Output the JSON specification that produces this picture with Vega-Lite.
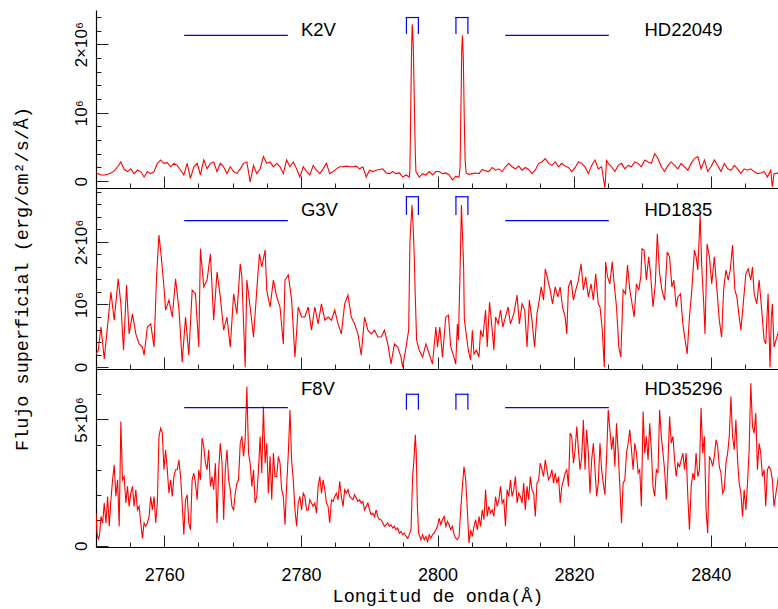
{
  "$schema": "https://vega.github.io/schema/vega-lite/v6.json",
  "background": "white",
  "padding": {"left": 12, "top": 10, "right": 0, "bottom": 2},
  "spacing": 0,
  "bounds": "flush",
  "config": {
    "view": {"stroke": null},
    "axis": {
      "domainColor": "#000", "domainWidth": 1.2, "tickColor": "#222", "tickWidth": 1, "ticks": true, "tickCount": 200,
      "labelFont": "Liberation Sans", "labelFontSize": 17, "labelColor": "#000",
      "titleFont": "Liberation Mono", "titleFontSize": 18.5, "titleFontWeight": "normal", "titleColor": "#000",
      "grid": false, "labelOverlap": false, "labelFlush": false, "labelBound": false
    }
  },
  "datasets": {
    "p1": [
      {"w":2750.00,"f":0.12},{"w":2750.24,"f":0.11},{"w":2750.73,"f":0.09},{"w":2751.21,"f":0.09},{"w":2751.70,"f":0.10},{"w":2752.18,"f":0.12},{"w":2752.67,"f":0.15},{"w":2753.16,"f":0.21},{"w":2753.64,"f":0.28},{"w":2754.13,"f":0.17},{"w":2754.61,"f":0.14},{"w":2755.10,"f":0.18},{"w":2755.58,"f":0.11},{"w":2756.07,"f":0.16},{"w":2756.55,"f":0.14},{"w":2757.04,"f":0.06},{"w":2757.52,"f":0.14},{"w":2758.01,"f":0.11},{"w":2758.50,"f":0.14},{"w":2758.98,"f":0.26},{"w":2759.47,"f":0.31},{"w":2759.95,"f":0.26},{"w":2760.44,"f":0.27},{"w":2760.92,"f":0.21},{"w":2761.41,"f":0.26},{"w":2761.89,"f":0.23},{"w":2762.38,"f":0.16},{"w":2762.86,"f":0.09},{"w":2763.35,"f":0.26},{"w":2763.83,"f":0.04},{"w":2764.32,"f":0.21},{"w":2764.81,"f":0.26},{"w":2765.29,"f":0.09},{"w":2765.78,"f":0.31},{"w":2766.26,"f":0.18},{"w":2766.75,"f":0.26},{"w":2767.23,"f":0.28},{"w":2767.72,"f":0.14},{"w":2768.20,"f":0.26},{"w":2768.69,"f":0.21},{"w":2769.17,"f":0.11},{"w":2769.66,"f":0.21},{"w":2770.15,"f":0.14},{"w":2770.63,"f":0.11},{"w":2771.12,"f":0.18},{"w":2771.60,"f":0.26},{"w":2772.09,"f":0.28},{"w":2772.57,"f":-0.01},{"w":2773.06,"f":0.23},{"w":2773.54,"f":0.11},{"w":2774.03,"f":0.18},{"w":2774.51,"f":0.36},{"w":2775.00,"f":0.26},{"w":2775.49,"f":0.28},{"w":2775.97,"f":0.21},{"w":2776.46,"f":0.26},{"w":2776.94,"f":0.21},{"w":2777.43,"f":0.11},{"w":2777.91,"f":0.31},{"w":2778.40,"f":0.21},{"w":2778.88,"f":0.28},{"w":2779.37,"f":0.18},{"w":2779.85,"f":0.06},{"w":2780.34,"f":0.21},{"w":2780.83,"f":0.14},{"w":2781.31,"f":0.09},{"w":2781.80,"f":0.23},{"w":2782.28,"f":0.16},{"w":2782.77,"f":0.11},{"w":2783.25,"f":0.18},{"w":2783.74,"f":0.26},{"w":2784.22,"f":0.11},{"w":2784.71,"f":0.14},{"w":2785.19,"f":0.18},{"w":2785.68,"f":0.21},{"w":2786.17,"f":0.21},{"w":2786.65,"f":0.22},{"w":2787.14,"f":0.21},{"w":2787.62,"f":0.21},{"w":2788.11,"f":0.22},{"w":2788.59,"f":0.18},{"w":2789.08,"f":0.21},{"w":2789.56,"f":0.06},{"w":2790.05,"f":0.16},{"w":2790.53,"f":0.14},{"w":2791.02,"f":0.16},{"w":2791.50,"f":0.17},{"w":2791.99,"f":0.18},{"w":2792.48,"f":0.12},{"w":2792.96,"f":0.11},{"w":2793.45,"f":0.14},{"w":2793.93,"f":0.11},{"w":2794.42,"f":0.12},{"w":2794.90,"f":0.06},{"w":2795.39,"f":0.09},{"w":2795.87,"f":0.06},
      {"w":2795.95,"f":0.15},{"w":2796.05,"f":0.8},{"w":2796.2,"f":1.9},{"w":2796.3,"f":2.29},{"w":2796.45,"f":2.0},{"w":2796.6,"f":1.2},{"w":2796.75,"f":0.4},{"w":2796.84,"f":0.14},
      {"w":2797.33,"f":0.06},{"w":2797.82,"f":0.11},{"w":2798.30,"f":0.09},{"w":2798.79,"f":0.14},{"w":2799.27,"f":0.09},{"w":2799.76,"f":0.14},
      {"w":2800.24,"f":0.14},{"w":2800.73,"f":0.11},{"w":2801.21,"f":0.12},{"w":2801.70,"f":0.09},{"w":2802.18,"f":0.02},{"w":2802.67,"f":0.07},{"w":2803.15,"f":0.06},
      {"w":2803.3,"f":0.2},{"w":2803.42,"f":1.0},{"w":2803.55,"f":1.9},{"w":2803.65,"f":2.13},{"w":2803.78,"f":1.8},{"w":2803.92,"f":0.9},{"w":2804.05,"f":0.3},{"w":2804.2,"f":0.12},
      {"w":2804.61,"f":0.10},{"w":2805.10,"f":0.11},{"w":2805.58,"f":0.12},{"w":2806.07,"f":0.11},{"w":2806.55,"f":0.17},{"w":2807.04,"f":0.15},{"w":2807.52,"f":0.14},{"w":2808.01,"f":0.20},{"w":2808.50,"f":0.16},{"w":2808.98,"f":0.18},{"w":2809.47,"f":0.14},{"w":2809.95,"f":0.21},{"w":2810.44,"f":0.26},{"w":2810.92,"f":0.21},{"w":2811.41,"f":0.18},{"w":2811.89,"f":0.22},{"w":2812.38,"f":0.16},{"w":2812.86,"f":0.20},{"w":2813.35,"f":0.17},{"w":2813.84,"f":0.11},{"w":2814.32,"f":0.16},{"w":2814.81,"f":0.26},{"w":2815.29,"f":0.28},{"w":2815.78,"f":0.33},{"w":2816.26,"f":0.26},{"w":2816.75,"f":0.23},{"w":2817.23,"f":0.28},{"w":2817.72,"f":0.21},{"w":2818.20,"f":0.26},{"w":2818.69,"f":0.22},{"w":2819.17,"f":0.20},{"w":2819.66,"f":0.14},{"w":2820.15,"f":0.20},{"w":2820.63,"f":0.28},{"w":2821.12,"f":0.26},{"w":2821.60,"f":0.21},{"w":2822.09,"f":0.11},{"w":2822.57,"f":0.23},{"w":2823.06,"f":0.31},{"w":2823.54,"f":0.18},{"w":2824.03,"f":0.21},{"w":2824.51,"f":-0.10},{"w":2824.75,"f":0.30},{"w":2825.00,"f":0.26},{"w":2825.49,"f":0.21},{"w":2825.97,"f":0.14},{"w":2826.46,"f":0.23},{"w":2826.94,"f":0.26},{"w":2827.43,"f":0.18},{"w":2827.91,"f":0.23},{"w":2828.40,"f":0.21},{"w":2828.88,"f":0.28},{"w":2829.37,"f":0.26},{"w":2829.85,"f":0.21},{"w":2830.34,"f":0.31},{"w":2830.83,"f":0.28},{"w":2831.31,"f":0.26},{"w":2831.80,"f":0.40},{"w":2832.28,"f":0.33},{"w":2832.77,"f":0.21},{"w":2833.25,"f":0.14},{"w":2833.74,"f":0.23},{"w":2834.22,"f":0.28},{"w":2834.71,"f":0.23},{"w":2835.19,"f":0.18},{"w":2835.68,"f":0.26},{"w":2836.17,"f":0.21},{"w":2836.65,"f":0.16},{"w":2837.14,"f":0.26},{"w":2837.62,"f":0.33},{"w":2838.11,"f":0.36},{"w":2838.59,"f":0.18},{"w":2839.08,"f":0.31},{"w":2839.56,"f":0.14},{"w":2840.05,"f":0.21},{"w":2840.53,"f":0.31},{"w":2841.02,"f":0.23},{"w":2841.50,"f":0.14},{"w":2841.99,"f":0.26},{"w":2842.48,"f":0.18},{"w":2842.96,"f":0.16},{"w":2843.45,"f":0.23},{"w":2843.93,"f":0.18},{"w":2844.42,"f":0.11},{"w":2844.90,"f":0.18},{"w":2845.39,"f":0.16},{"w":2845.87,"f":0.18},{"w":2846.36,"f":0.14},{"w":2846.84,"f":0.11},{"w":2847.33,"f":0.12},{"w":2847.82,"f":0.14},{"w":2848.30,"f":0.06},{"w":2848.79,"f":0.16},{"w":2849.02,"f":-0.08},{"w":2849.27,"f":0.11},{"w":2850.0,"f":0.12}
    ],
    "p2": [
      {"w":2750.00,"f":0.21},{"w":2750.34,"f":0.27},{"w":2750.73,"f":0.64},{"w":2751.21,"f":0.13},{"w":2751.70,"f":0.67},{"w":2752.18,"f":1.20},{"w":2752.67,"f":0.75},{"w":2753.25,"f":1.41},{"w":2753.64,"f":1.01},{"w":2754.03,"f":0.27},{"w":2754.47,"f":1.31},{"w":2754.85,"f":0.53},{"w":2755.34,"f":0.85},{"w":2755.83,"f":0.53},{"w":2756.31,"f":0.37},{"w":2756.80,"f":0.32},{"w":2757.04,"f":0.19},{"w":2757.52,"f":0.64},{"w":2758.01,"f":0.69},{"w":2758.50,"f":0.32},{"w":2758.88,"f":1.49},{"w":2759.22,"f":2.11},{"w":2759.56,"f":1.76},{"w":2759.95,"f":1.28},{"w":2760.19,"f":0.91},{"w":2760.68,"f":1.07},{"w":2761.17,"f":0.80},{"w":2761.65,"f":1.41},{"w":2762.14,"f":0.93},{"w":2762.62,"f":0.08},{"w":2763.11,"f":0.80},{"w":2763.59,"f":0.19},{"w":2764.08,"f":1.23},{"w":2764.56,"f":1.17},{"w":2765.05,"f":0.32},{"w":2765.29,"f":1.89},{"w":2765.78,"f":1.28},{"w":2766.26,"f":1.39},{"w":2766.75,"f":1.81},{"w":2767.23,"f":0.75},{"w":2767.72,"f":1.52},{"w":2768.20,"f":1.12},{"w":2768.69,"f":0.59},{"w":2769.17,"f":0.80},{"w":2769.66,"f":0.32},{"w":2770.15,"f":1.17},{"w":2770.63,"f":0.85},{"w":2771.12,"f":1.65},{"w":2771.36,"f":1.44},{"w":2771.84,"f":0.00},{"w":2772.09,"f":1.39},{"w":2772.57,"f":0.96},{"w":2773.06,"f":0.48},{"w":2773.54,"f":1.23},{"w":2773.93,"f":1.81},{"w":2774.27,"f":1.60},{"w":2774.76,"f":1.87},{"w":2775.00,"f":1.23},{"w":2775.49,"f":0.96},{"w":2775.97,"f":1.39},{"w":2776.46,"f":1.12},{"w":2776.94,"f":0.96},{"w":2777.43,"f":0.37},{"w":2777.67,"f":1.39},{"w":2778.16,"f":1.47},{"w":2778.64,"f":1.07},{"w":2779.13,"f":0.16},{"w":2779.61,"f":0.96},{"w":2780.10,"f":0.80},{"w":2780.58,"f":0.80},{"w":2781.07,"f":0.96},{"w":2781.55,"f":0.59},{"w":2782.04,"f":0.96},{"w":2782.52,"f":0.69},{"w":2783.01,"f":1.01},{"w":2783.50,"f":0.75},{"w":2783.98,"f":0.80},{"w":2784.47,"f":0.75},{"w":2784.95,"f":0.91},{"w":2785.44,"f":0.69},{"w":2785.92,"f":0.53},{"w":2786.41,"f":1.01},{"w":2786.89,"f":1.15},{"w":2787.38,"f":0.80},{"w":2787.86,"f":0.69},{"w":2788.35,"f":0.53},{"w":2788.83,"f":0.19},{"w":2789.32,"f":0.80},{"w":2789.81,"f":0.59},{"w":2790.29,"f":0.53},{"w":2790.78,"f":0.59},{"w":2791.26,"f":0.48},{"w":2791.75,"f":0.48},{"w":2792.23,"f":0.59},{"w":2792.72,"f":0.37},{"w":2793.20,"f":0.05},{"w":2793.69,"f":0.37},{"w":2794.17,"f":0.32},{"w":2794.66,"f":0.16},{"w":2794.90,"f":0.00},{"w":2795.39,"f":0.32},{"w":2795.78,"f":0.59},{"w":2795.97,"f":2.03},{"w":2796.26,"f":2.59},{"w":2796.46,"f":2.19},{"w":2796.60,"f":1.76},{"w":2796.75,"f":1.12},{"w":2796.94,"f":0.43},{"w":2797.33,"f":0.27},{"w":2797.82,"f":0.16},{"w":2798.30,"f":0.37},{"w":2798.79,"f":0.21},{"w":2799.27,"f":0.05},{"w":2799.76,"f":0.64},
      {"w":2800.00,"f":0.32},{"w":2800.34,"f":0.64},{"w":2800.73,"f":0.16},{"w":2801.21,"f":0.80},{"w":2801.60,"f":0.83},{"w":2801.94,"f":0.32},{"w":2802.28,"f":0.21},{"w":2802.67,"f":0.05},{"w":2802.91,"f":0.69},{"w":2803.06,"f":0.43},{"w":2803.35,"f":1.76},{"w":2803.50,"f":2.59},{"w":2803.69,"f":2.03},{"w":2803.83,"f":1.57},{"w":2803.93,"f":0.77},{"w":2804.13,"f":0.59},{"w":2804.51,"f":0.27},{"w":2804.85,"f":0.11},{"w":2805.10,"f":0.59},{"w":2805.34,"f":0.21},{"w":2805.68,"f":0.27},{"w":2806.07,"f":0.16},{"w":2806.31,"f":0.59},{"w":2806.65,"f":0.48},{"w":2807.04,"f":0.91},{"w":2807.28,"f":0.32},{"w":2807.62,"f":1.04},{"w":2808.01,"f":0.59},{"w":2808.25,"f":0.27},{"w":2808.50,"f":0.80},{"w":2808.88,"f":0.69},{"w":2809.22,"f":0.91},{"w":2809.56,"f":0.64},{"w":2809.95,"f":0.80},{"w":2810.34,"f":0.96},{"w":2810.68,"f":0.69},{"w":2811.17,"f":0.85},{"w":2811.65,"f":1.15},{"w":2811.99,"f":0.69},{"w":2812.38,"f":1.01},{"w":2812.77,"f":0.91},{"w":2813.11,"f":0.32},{"w":2813.45,"f":1.07},{"w":2813.83,"f":0.75},{"w":2814.22,"f":0.32},{"w":2814.56,"f":0.85},{"w":2814.90,"f":1.07},{"w":2815.19,"f":1.28},{"w":2815.53,"f":1.07},{"w":2815.78,"f":1.57},{"w":2816.17,"f":1.39},{"w":2816.50,"f":1.23},{"w":2816.84,"f":1.01},{"w":2817.23,"f":1.28},{"w":2817.62,"f":1.12},{"w":2817.96,"f":1.28},{"w":2818.30,"f":0.96},{"w":2818.69,"f":0.80},{"w":2818.93,"f":0.53},{"w":2819.17,"f":1.28},{"w":2819.56,"f":1.39},{"w":2819.90,"f":1.07},{"w":2820.24,"f":1.23},{"w":2820.63,"f":1.39},{"w":2821.02,"f":1.65},{"w":2821.36,"f":1.23},{"w":2821.70,"f":1.44},{"w":2822.09,"f":1.12},{"w":2822.48,"f":1.33},{"w":2822.82,"f":1.07},{"w":2823.16,"f":1.49},{"w":2823.54,"f":1.01},{"w":2823.79,"f":0.96},{"w":2824.13,"f":0.59},{"w":2824.42,"f":0.00},{"w":2824.61,"f":1.68},{"w":2824.90,"f":1.44},{"w":2825.24,"f":1.33},{"w":2825.58,"f":1.68},{"w":2825.87,"f":1.33},{"w":2826.21,"f":0.96},{"w":2826.55,"f":0.32},{"w":2826.84,"f":0.16},{"w":2827.18,"f":1.23},{"w":2827.52,"f":1.17},{"w":2827.82,"f":1.63},{"w":2828.16,"f":1.23},{"w":2828.40,"f":1.07},{"w":2828.79,"f":0.80},{"w":2829.13,"f":1.33},{"w":2829.47,"f":1.23},{"w":2829.76,"f":1.44},{"w":2829.95,"f":1.89},{"w":2830.24,"f":1.87},{"w":2830.58,"f":1.39},{"w":2830.92,"f":1.76},{"w":2831.21,"f":1.47},{"w":2831.55,"f":0.96},{"w":2831.89,"f":1.33},{"w":2832.18,"f":2.13},{"w":2832.52,"f":1.49},{"w":2832.86,"f":1.23},{"w":2833.25,"f":1.07},{"w":2833.64,"f":1.84},{"w":2833.98,"f":1.76},{"w":2834.32,"f":1.28},{"w":2834.61,"f":1.39},{"w":2834.95,"f":0.96},{"w":2835.19,"f":1.12},{"w":2835.58,"f":1.17},{"w":2835.92,"f":0.69},{"w":2836.26,"f":0.43},{"w":2836.55,"f":0.21},{"w":2836.89,"f":0.80},{"w":2837.23,"f":1.23},{"w":2837.62,"f":1.87},{"w":2837.86,"f":1.76},{"w":2838.11,"f":1.55},{"w":2838.45,"f":2.43},{"w":2838.69,"f":1.60},{"w":2838.98,"f":1.01},{"w":2839.17,"f":0.53},{"w":2839.47,"f":1.97},{"w":2839.81,"f":1.76},{"w":2840.15,"f":1.33},{"w":2840.53,"f":1.76},{"w":2840.92,"f":1.23},{"w":2841.26,"f":0.75},{"w":2841.60,"f":0.48},{"w":2841.89,"f":1.23},{"w":2842.23,"f":1.55},{"w":2842.57,"f":1.39},{"w":2842.86,"f":1.55},{"w":2843.20,"f":1.95},{"w":2843.54,"f":1.23},{"w":2843.83,"f":1.12},{"w":2844.17,"f":0.80},{"w":2844.42,"f":0.59},{"w":2844.81,"f":1.07},{"w":2845.15,"f":1.49},{"w":2845.49,"f":1.57},{"w":2845.87,"f":1.39},{"w":2846.12,"f":1.60},{"w":2846.36,"f":1.17},{"w":2846.75,"f":1.01},{"w":2847.09,"f":1.39},{"w":2847.43,"f":0.96},{"w":2847.82,"f":0.43},{"w":2848.06,"f":0.37},{"w":2848.40,"f":1.17},{"w":2848.69,"f":0.00},{"w":2848.88,"f":0.80},{"w":2849.03,"f":1.01},{"w":2849.27,"f":0.32},{"w":2850.00,"f":0.60}
    ],
    "p3": [
      {"w":2750.00,"f":1.29},{"w":2750.15,"f":0.50},{"w":2750.34,"f":0.24},{"w":2750.53,"f":0.44},{"w":2750.73,"f":1.16},{"w":2750.97,"f":0.90},{"w":2751.21,"f":1.69},{"w":2751.46,"f":0.90},{"w":2751.70,"f":1.95},{"w":2751.94,"f":0.77},{"w":2752.18,"f":1.82},{"w":2752.43,"f":2.61},{"w":2752.67,"f":3.21},{"w":2752.91,"f":1.95},{"w":2753.16,"f":2.61},{"w":2753.40,"f":0.77},{"w":2753.64,"f":4.92},{"w":2753.88,"f":2.61},{"w":2754.13,"f":2.74},{"w":2754.37,"f":1.69},{"w":2754.61,"f":2.35},{"w":2754.85,"f":1.56},{"w":2755.10,"f":2.08},{"w":2755.34,"f":2.35},{"w":2755.58,"f":1.56},{"w":2755.83,"f":2.22},{"w":2756.07,"f":1.42},{"w":2756.31,"f":1.56},{"w":2756.55,"f":0.90},{"w":2756.80,"f":0.30},{"w":2757.04,"f":0.90},{"w":2757.28,"f":0.77},{"w":2757.52,"f":0.90},{"w":2757.77,"f":1.16},{"w":2758.01,"f":1.95},{"w":2758.25,"f":1.42},{"w":2758.50,"f":1.95},{"w":2758.74,"f":0.90},{"w":2758.98,"f":1.69},{"w":2759.22,"f":4.33},{"w":2759.47,"f":4.66},{"w":2759.71,"f":4.46},{"w":2759.95,"f":3.01},{"w":2760.19,"f":3.80},{"w":2760.44,"f":3.01},{"w":2760.68,"f":2.08},{"w":2760.92,"f":2.61},{"w":2761.17,"f":1.95},{"w":2761.41,"f":2.74},{"w":2761.65,"f":3.01},{"w":2761.89,"f":3.01},{"w":2762.14,"f":3.40},{"w":2762.38,"f":2.74},{"w":2762.62,"f":1.69},{"w":2762.86,"f":0.44},{"w":2763.11,"f":1.82},{"w":2763.35,"f":2.02},{"w":2763.59,"f":0.90},{"w":2763.83,"f":0.63},{"w":2764.08,"f":2.61},{"w":2764.32,"f":2.88},{"w":2764.56,"f":2.48},{"w":2764.81,"f":1.82},{"w":2765.05,"f":3.01},{"w":2765.29,"f":2.61},{"w":2765.53,"f":4.26},{"w":2765.78,"f":3.93},{"w":2766.02,"f":3.27},{"w":2766.26,"f":3.01},{"w":2766.50,"f":3.80},{"w":2766.75,"f":2.35},{"w":2766.99,"f":2.74},{"w":2767.23,"f":2.22},{"w":2767.48,"f":3.27},{"w":2767.72,"f":0.90},{"w":2767.96,"f":3.01},{"w":2768.20,"f":4.06},{"w":2768.45,"f":3.27},{"w":2768.69,"f":1.03},{"w":2768.93,"f":3.01},{"w":2769.17,"f":3.80},{"w":2769.42,"f":2.61},{"w":2769.66,"f":2.22},{"w":2769.90,"f":1.56},{"w":2770.15,"f":1.42},{"w":2770.39,"f":2.08},{"w":2770.63,"f":2.48},{"w":2770.87,"f":2.61},{"w":2771.12,"f":4.06},{"w":2771.36,"f":4.33},{"w":2771.60,"f":3.54},{"w":2771.84,"f":4.20},{"w":2772.09,"f":6.31},{"w":2772.33,"f":3.67},{"w":2772.57,"f":3.27},{"w":2772.82,"f":2.35},{"w":2773.06,"f":3.01},{"w":2773.30,"f":1.69},{"w":2773.54,"f":1.95},{"w":2773.79,"f":3.01},{"w":2774.03,"f":4.33},{"w":2774.27,"f":2.88},{"w":2774.51,"f":5.51},{"w":2774.76,"f":3.27},{"w":2775.00,"f":4.06},{"w":2775.24,"f":2.08},{"w":2775.49,"f":3.54},{"w":2775.73,"f":1.82},{"w":2775.97,"f":3.67},{"w":2776.21,"f":2.74},{"w":2776.46,"f":2.74},{"w":2776.70,"f":3.54},{"w":2776.94,"f":3.27},{"w":2777.18,"f":2.22},{"w":2777.43,"f":1.95},{"w":2777.67,"f":0.83},{"w":2777.91,"f":2.35},{"w":2778.16,"f":3.67},{"w":2778.40,"f":5.38},{"w":2778.64,"f":3.40},{"w":2778.88,"f":2.61},{"w":2779.13,"f":1.42},{"w":2779.37,"f":0.77},{"w":2779.61,"f":1.69},{"w":2779.85,"f":1.95},{"w":2780.10,"f":1.42},{"w":2780.34,"f":2.08},{"w":2780.58,"f":1.95},{"w":2780.83,"f":1.42},{"w":2781.07,"f":1.42},{"w":2781.31,"f":1.82},{"w":2781.55,"f":1.69},{"w":2781.80,"f":1.56},{"w":2782.04,"f":1.69},{"w":2782.28,"f":1.29},{"w":2782.52,"f":2.35},{"w":2782.77,"f":2.74},{"w":2783.01,"f":2.08},{"w":2783.25,"f":2.61},{"w":2783.50,"f":2.22},{"w":2783.74,"f":1.69},{"w":2783.98,"f":1.56},{"w":2784.22,"f":0.90},{"w":2784.47,"f":1.82},{"w":2784.71,"f":1.75},{"w":2784.95,"f":1.95},{"w":2785.19,"f":2.08},{"w":2785.44,"f":1.82},{"w":2785.68,"f":2.55},{"w":2785.92,"f":1.95},{"w":2786.17,"f":1.56},{"w":2786.41,"f":2.22},{"w":2786.65,"f":2.08},{"w":2786.89,"f":2.22},{"w":2787.14,"f":1.95},{"w":2787.38,"f":1.89},{"w":2787.62,"f":1.82},{"w":2787.86,"f":2.02},{"w":2788.11,"f":1.89},{"w":2788.35,"f":1.75},{"w":2788.59,"f":1.82},{"w":2788.83,"f":1.69},{"w":2789.08,"f":1.75},{"w":2789.32,"f":1.42},{"w":2789.56,"f":1.56},{"w":2789.81,"f":1.69},{"w":2790.05,"f":1.42},{"w":2790.29,"f":1.23},{"w":2790.53,"f":1.29},{"w":2790.78,"f":1.16},{"w":2791.02,"f":1.42},{"w":2791.26,"f":1.16},{"w":2791.50,"f":1.03},{"w":2791.75,"f":1.03},{"w":2791.99,"f":0.90},{"w":2792.23,"f":0.77},{"w":2792.48,"f":0.83},{"w":2792.72,"f":0.90},{"w":2792.96,"f":0.77},{"w":2793.20,"f":0.83},{"w":2793.45,"f":0.70},{"w":2793.69,"f":0.77},{"w":2793.93,"f":0.63},{"w":2794.17,"f":0.70},{"w":2794.42,"f":0.50},{"w":2794.66,"f":0.57},{"w":2794.90,"f":0.44},{"w":2795.15,"f":0.50},{"w":2795.39,"f":0.37},{"w":2795.63,"f":0.30},{"w":2795.87,"f":0.44},{"w":2796.12,"f":0.63},{"w":2796.36,"f":2.74},{"w":2796.55,"f":3.40},{"w":2796.75,"f":4.39},{"w":2796.89,"f":3.67},{"w":2797.04,"f":1.69},{"w":2797.23,"f":0.50},{"w":2797.57,"f":0.24},{"w":2797.82,"f":0.44},{"w":2798.06,"f":0.24},{"w":2798.30,"f":0.37},{"w":2798.54,"f":0.17},{"w":2798.79,"f":0.44},{"w":2799.03,"f":0.30},{"w":2799.27,"f":0.44},{"w":2799.51,"f":0.50},{"w":2799.76,"f":0.63},
      {"w":2800.00,"f":0.77},{"w":2800.24,"f":1.09},{"w":2800.49,"f":0.83},{"w":2800.73,"f":1.03},{"w":2800.97,"f":1.16},{"w":2801.21,"f":0.77},{"w":2801.46,"f":0.96},{"w":2801.70,"f":0.83},{"w":2801.94,"f":0.63},{"w":2802.18,"f":0.77},{"w":2802.43,"f":0.44},{"w":2802.67,"f":0.30},{"w":2802.91,"f":0.24},{"w":2803.16,"f":0.37},{"w":2803.40,"f":1.42},{"w":2803.64,"f":2.35},{"w":2803.88,"f":3.14},{"w":2804.13,"f":2.61},{"w":2804.37,"f":1.42},{"w":2804.61,"f":0.11},{"w":2804.85,"f":0.63},{"w":2805.10,"f":0.37},{"w":2805.34,"f":0.77},{"w":2805.58,"f":1.03},{"w":2805.83,"f":0.63},{"w":2806.07,"f":1.16},{"w":2806.31,"f":0.77},{"w":2806.55,"f":1.42},{"w":2806.80,"f":1.03},{"w":2807.04,"f":2.22},{"w":2807.28,"f":1.16},{"w":2807.52,"f":1.56},{"w":2807.77,"f":1.29},{"w":2808.01,"f":1.42},{"w":2808.25,"f":1.16},{"w":2808.50,"f":1.95},{"w":2808.74,"f":1.56},{"w":2808.98,"f":1.82},{"w":2809.22,"f":2.35},{"w":2809.47,"f":1.69},{"w":2809.71,"f":1.82},{"w":2809.95,"f":0.77},{"w":2810.19,"f":2.22},{"w":2810.44,"f":1.95},{"w":2810.68,"f":2.61},{"w":2810.92,"f":1.95},{"w":2811.17,"f":2.22},{"w":2811.41,"f":2.74},{"w":2811.65,"f":1.69},{"w":2811.89,"f":2.08},{"w":2812.14,"f":1.95},{"w":2812.38,"f":1.69},{"w":2812.62,"f":2.48},{"w":2812.86,"f":1.42},{"w":2813.11,"f":2.35},{"w":2813.35,"f":1.82},{"w":2813.59,"f":2.74},{"w":2813.83,"f":2.22},{"w":2814.08,"f":2.08},{"w":2814.32,"f":1.16},{"w":2814.56,"f":2.48},{"w":2814.81,"f":2.61},{"w":2815.05,"f":3.27},{"w":2815.29,"f":3.01},{"w":2815.53,"f":2.74},{"w":2815.78,"f":3.40},{"w":2816.02,"f":3.01},{"w":2816.26,"f":2.61},{"w":2816.50,"f":2.74},{"w":2816.75,"f":3.01},{"w":2816.99,"f":2.48},{"w":2817.23,"f":2.88},{"w":2817.48,"f":2.48},{"w":2817.72,"f":2.74},{"w":2817.96,"f":1.69},{"w":2818.20,"f":2.35},{"w":2818.45,"f":2.61},{"w":2818.69,"f":2.88},{"w":2818.93,"f":3.01},{"w":2819.17,"f":2.35},{"w":2819.42,"f":4.46},{"w":2819.66,"f":4.33},{"w":2819.90,"f":3.27},{"w":2820.15,"f":3.80},{"w":2820.39,"f":4.72},{"w":2820.63,"f":3.80},{"w":2820.87,"f":3.01},{"w":2821.12,"f":3.54},{"w":2821.36,"f":4.99},{"w":2821.60,"f":3.01},{"w":2821.84,"f":4.59},{"w":2822.09,"f":3.67},{"w":2822.33,"f":2.08},{"w":2822.57,"f":3.40},{"w":2822.82,"f":4.06},{"w":2823.06,"f":3.01},{"w":2823.30,"f":1.95},{"w":2823.54,"f":2.48},{"w":2823.79,"f":4.06},{"w":2824.03,"f":3.01},{"w":2824.27,"f":2.48},{"w":2824.51,"f":2.02},{"w":2824.76,"f":3.54},{"w":2825.00,"f":5.38},{"w":2825.24,"f":4.59},{"w":2825.49,"f":3.80},{"w":2825.73,"f":4.33},{"w":2825.97,"f":3.14},{"w":2826.21,"f":4.85},{"w":2826.46,"f":3.67},{"w":2826.70,"f":2.35},{"w":2826.94,"f":0.90},{"w":2827.18,"f":2.48},{"w":2827.43,"f":2.61},{"w":2827.67,"f":3.67},{"w":2827.91,"f":4.06},{"w":2828.16,"f":4.59},{"w":2828.40,"f":3.80},{"w":2828.64,"f":3.01},{"w":2828.88,"f":4.06},{"w":2829.13,"f":3.67},{"w":2829.37,"f":2.88},{"w":2829.61,"f":3.01},{"w":2829.85,"f":1.56},{"w":2830.10,"f":5.32},{"w":2830.34,"f":3.67},{"w":2830.58,"f":4.33},{"w":2830.83,"f":3.40},{"w":2831.07,"f":4.85},{"w":2831.31,"f":3.80},{"w":2831.55,"f":2.35},{"w":2831.80,"f":1.95},{"w":2832.04,"f":3.01},{"w":2832.28,"f":2.88},{"w":2832.52,"f":5.38},{"w":2832.77,"f":4.33},{"w":2833.01,"f":3.67},{"w":2833.25,"f":3.01},{"w":2833.50,"f":1.82},{"w":2833.74,"f":3.27},{"w":2833.98,"f":5.12},{"w":2834.22,"f":4.06},{"w":2834.47,"f":4.33},{"w":2834.71,"f":3.40},{"w":2834.95,"f":2.74},{"w":2835.19,"f":3.27},{"w":2835.44,"f":3.14},{"w":2835.68,"f":3.40},{"w":2835.92,"f":3.67},{"w":2836.17,"f":3.01},{"w":2836.41,"f":3.67},{"w":2836.65,"f":1.95},{"w":2836.89,"f":0.63},{"w":2837.14,"f":2.35},{"w":2837.38,"f":2.88},{"w":2837.62,"f":2.61},{"w":2837.86,"f":3.67},{"w":2838.11,"f":2.74},{"w":2838.35,"f":3.01},{"w":2838.59,"f":5.45},{"w":2838.83,"f":3.67},{"w":2839.08,"f":4.33},{"w":2839.32,"f":1.42},{"w":2839.56,"f":0.50},{"w":2839.81,"f":3.54},{"w":2840.05,"f":3.40},{"w":2840.29,"f":3.14},{"w":2840.53,"f":3.54},{"w":2840.78,"f":4.20},{"w":2841.02,"f":3.93},{"w":2841.26,"f":3.14},{"w":2841.50,"f":2.88},{"w":2841.75,"f":2.08},{"w":2841.99,"f":2.22},{"w":2842.23,"f":3.27},{"w":2842.48,"f":3.67},{"w":2842.72,"f":4.33},{"w":2842.96,"f":5.91},{"w":2843.20,"f":4.33},{"w":2843.45,"f":3.80},{"w":2843.69,"f":4.99},{"w":2843.93,"f":3.40},{"w":2844.17,"f":2.48},{"w":2844.42,"f":2.08},{"w":2844.66,"f":1.16},{"w":2844.90,"f":2.22},{"w":2845.15,"f":1.42},{"w":2845.39,"f":2.48},{"w":2845.63,"f":3.80},{"w":2845.87,"f":6.44},{"w":2846.12,"f":4.72},{"w":2846.36,"f":4.46},{"w":2846.60,"f":5.25},{"w":2846.84,"f":3.01},{"w":2847.09,"f":4.06},{"w":2847.33,"f":3.67},{"w":2847.57,"f":2.74},{"w":2847.82,"f":3.01},{"w":2848.06,"f":1.56},{"w":2848.30,"f":3.01},{"w":2848.54,"f":3.14},{"w":2848.79,"f":3.01},{"w":2849.03,"f":2.61},{"w":2849.27,"f":1.56},{"w":2850.00,"f":2.90}
    ],
    "m1": [
      {"w":2763,"w2":2778,"f":2.13,"f2":2.13},{"w":2810,"w2":2825,"f":2.13,"f2":2.13},
      {"w":2795.45,"w2":2795.45,"f":2.16,"f2":2.39},{"w":2795.45,"w2":2797.2,"f":2.39,"f2":2.39},{"w":2797.2,"w2":2797.2,"f":2.16,"f2":2.39},
      {"w":2802.7,"w2":2802.7,"f":2.16,"f2":2.39},{"w":2802.7,"w2":2804.45,"f":2.39,"f2":2.39},{"w":2804.45,"w2":2804.45,"f":2.16,"f2":2.39}
    ],
    "m2": [
      {"w":2763,"w2":2778,"f":2.34,"f2":2.34},{"w":2810,"w2":2825,"f":2.34,"f2":2.34},
      {"w":2795.45,"w2":2795.45,"f":2.44,"f2":2.72},{"w":2795.45,"w2":2797.2,"f":2.72,"f2":2.72},{"w":2797.2,"w2":2797.2,"f":2.44,"f2":2.72},
      {"w":2802.7,"w2":2802.7,"f":2.44,"f2":2.72},{"w":2802.7,"w2":2804.45,"f":2.72,"f2":2.72},{"w":2804.45,"w2":2804.45,"f":2.44,"f2":2.72}
    ],
    "m3": [
      {"w":2763,"w2":2778,"f":5.47,"f2":5.47},{"w":2810,"w2":2825,"f":5.47,"f2":5.47},
      {"w":2795.45,"w2":2795.45,"f":5.41,"f2":6.0},{"w":2795.45,"w2":2797.2,"f":6.0,"f2":6.0},{"w":2797.2,"w2":2797.2,"f":5.41,"f2":6.0},
      {"w":2802.7,"w2":2802.7,"f":5.41,"f2":6.0},{"w":2802.7,"w2":2804.45,"f":6.0,"f2":6.0},{"w":2804.45,"w2":2804.45,"f":5.41,"f2":6.0}
    ],
    "t1": [{"w":2780.0,"f":2.12,"label":"K2V"},{"w":2830.3,"f":2.12,"label":"HD22049"}],
    "t2": [{"w":2780.0,"f":2.41,"label":"G3V"},{"w":2830.3,"f":2.41,"label":"HD1835"}],
    "t3": [{"w":2780.0,"f":5.98,"label":"F8V"},{"w":2830.3,"f":5.98,"label":"HD35296"}]
  },
  "vconcat": [
    {
      "width": 683, "height": 178,
      "resolve": {"scale": {"x": "independent", "y": "independent"}},
      "layer": [
        {
          "data": {"name": "p1"},
          "mark": {"type": "line", "color": "#ff0000", "strokeWidth": 1.1, "clip": true},
          "encoding": {
            "x": {"field": "w", "type": "quantitative", "scale": {"domain": [2750, 2850], "nice": false, "zero": false},
              "axis": {"title": null, "orient": "bottom", "labels": false, "tickSize": -12, "values": [2760,2780,2800,2820,2840]}},
            "y": {"field": "f", "type": "quantitative", "scale": {"domain": [-0.1, 2.5], "nice": false, "zero": false},
              "axis": {"title": null, "orient": "left", "labelOverlap": false, "tickSize": -12, "values": [0, 1, 2],
                "labelAngle": -90, "labelAlign": "center", "labelBaseline": "bottom", "labelPadding": 17.5,
                "labelExpr": "datum.value === 0 ? '0' : datum.value === 1 ? '10⁶' : '2×10⁶'"}}
          }
        },
        {
          "data": {"name": "m1"},
          "mark": {"type": "rule", "color": "#0000ff", "strokeWidth": 1.2, "strokeCap": "square"},
          "encoding": {
            "x": {"field": "w", "type": "quantitative", "scale": {"domain": [2750, 2850], "nice": false, "zero": false},
              "axis": {"title": null, "orient": "bottom", "domain": false, "labels": false, "tickSize": -5,
                "values": [2750,2755,2760,2765,2770,2775,2780,2785,2790,2795,2800,2805,2810,2815,2820,2825,2830,2835,2840,2845,2850]}},
            "x2": {"field": "w2"},
            "y": {"field": "f", "type": "quantitative", "scale": {"domain": [-0.1, 2.5], "nice": false, "zero": false},
              "axis": {"title": null, "orient": "left", "domain": false, "labels": false, "tickSize": -5,
                "values": [0,0.2,0.4,0.6,0.8,1,1.2,1.4,1.6,1.8,2,2.2,2.4]}},
            "y2": {"field": "f2"}
          }
        },
        {
          "data": {"name": "t1"},
          "mark": {"type": "text", "align": "left", "baseline": "alphabetic", "font": "Liberation Sans", "fontSize": 18.5, "color": "#000"},
          "encoding": {
            "x": {"field": "w", "type": "quantitative", "scale": {"domain": [2750, 2850], "nice": false, "zero": false}, "axis": null},
            "y": {"field": "f", "type": "quantitative", "scale": {"domain": [-0.1, 2.5], "nice": false, "zero": false}, "axis": null},
            "text": {"field": "label"}
          }
        }
      ]
    },
    {
      "width": 683, "height": 181,
      "resolve": {"scale": {"x": "independent", "y": "independent"}},
      "layer": [
        {
          "data": {"name": "p2"},
          "mark": {"type": "line", "color": "#ff0000", "strokeWidth": 1.1, "clip": true},
          "encoding": {
            "x": {"field": "w", "type": "quantitative", "scale": {"domain": [2750, 2850], "nice": false, "zero": false},
              "axis": {"title": null, "orient": "bottom", "labels": false, "tickSize": -12, "values": [2760,2780,2800,2820,2840]}},
            "y": {"field": "f", "type": "quantitative", "scale": {"domain": [-0.03, 2.86], "nice": false, "zero": false},
              "axis": {"title": "Flujo superficial (erg/cm²/s/Å)", "titlePadding": 41, "orient": "left", "labelOverlap": false, "tickSize": -12, "values": [0, 1, 2],
                "labelAngle": -90, "labelAlign": "center", "labelBaseline": "bottom", "labelPadding": 17.5,
                "labelExpr": "datum.value === 0 ? '0' : datum.value === 1 ? '10⁶' : '2×10⁶'"}}
          }
        },
        {
          "data": {"name": "m2"},
          "mark": {"type": "rule", "color": "#0000ff", "strokeWidth": 1.2, "strokeCap": "square"},
          "encoding": {
            "x": {"field": "w", "type": "quantitative", "scale": {"domain": [2750, 2850], "nice": false, "zero": false},
              "axis": {"title": null, "orient": "bottom", "domain": false, "labels": false, "tickSize": -5,
                "values": [2750,2755,2760,2765,2770,2775,2780,2785,2790,2795,2800,2805,2810,2815,2820,2825,2830,2835,2840,2845,2850]}},
            "x2": {"field": "w2"},
            "y": {"field": "f", "type": "quantitative", "scale": {"domain": [-0.03, 2.86], "nice": false, "zero": false},
              "axis": {"title": null, "orient": "left", "domain": false, "labels": false, "tickSize": -5,
                "values": [0,0.2,0.4,0.6,0.8,1,1.2,1.4,1.6,1.8,2,2.2,2.4,2.6,2.8]}},
            "y2": {"field": "f2"}
          }
        },
        {
          "data": {"name": "t2"},
          "mark": {"type": "text", "align": "left", "baseline": "alphabetic", "font": "Liberation Sans", "fontSize": 18.5, "color": "#000"},
          "encoding": {
            "x": {"field": "w", "type": "quantitative", "scale": {"domain": [2750, 2850], "nice": false, "zero": false}, "axis": null},
            "y": {"field": "f", "type": "quantitative", "scale": {"domain": [-0.03, 2.86], "nice": false, "zero": false}, "axis": null},
            "text": {"field": "label"}
          }
        }
      ]
    },
    {
      "width": 683, "height": 178,
      "resolve": {"scale": {"x": "independent", "y": "independent"}},
      "layer": [
        {
          "data": {"name": "p3"},
          "mark": {"type": "line", "color": "#ff0000", "strokeWidth": 1.1, "clip": true},
          "encoding": {
            "x": {"field": "w", "type": "quantitative", "scale": {"domain": [2750, 2850], "nice": false, "zero": false},
              "axis": {"title": "Longitud de onda(Å)", "titlePadding": 2, "orient": "bottom", "tickSize": -12, "values": [2760,2780,2800,2820,2840],
                "labelPadding": 31, "labelFontSize": 18, "labelOverlap": false, "format": "d"}},
            "y": {"field": "f", "type": "quantitative", "scale": {"domain": [-0.05, 7.0], "nice": false, "zero": false},
              "axis": {"title": null, "orient": "left", "labelOverlap": false, "tickSize": -12, "values": [0, 5],
                "labelAngle": -90, "labelAlign": "center", "labelBaseline": "bottom", "labelPadding": 17.5,
                "labelExpr": "datum.value === 0 ? '0' : '5×10⁶'"}}
          }
        },
        {
          "data": {"name": "m3"},
          "mark": {"type": "rule", "color": "#0000ff", "strokeWidth": 1.2, "strokeCap": "square"},
          "encoding": {
            "x": {"field": "w", "type": "quantitative", "scale": {"domain": [2750, 2850], "nice": false, "zero": false},
              "axis": {"title": null, "orient": "bottom", "domain": false, "labels": false, "tickSize": -5,
                "values": [2750,2755,2760,2765,2770,2775,2780,2785,2790,2795,2800,2805,2810,2815,2820,2825,2830,2835,2840,2845,2850]}},
            "x2": {"field": "w2"},
            "y": {"field": "f", "type": "quantitative", "scale": {"domain": [-0.05, 7.0], "nice": false, "zero": false},
              "axis": {"title": null, "orient": "left", "domain": false, "labels": false, "tickSize": -5,
                "values": [0,1,2,3,4,5,6]}},
            "y2": {"field": "f2"}
          }
        },
        {
          "data": {"name": "t3"},
          "mark": {"type": "text", "align": "left", "baseline": "alphabetic", "font": "Liberation Sans", "fontSize": 18.5, "color": "#000"},
          "encoding": {
            "x": {"field": "w", "type": "quantitative", "scale": {"domain": [2750, 2850], "nice": false, "zero": false}, "axis": null},
            "y": {"field": "f", "type": "quantitative", "scale": {"domain": [-0.05, 7.0], "nice": false, "zero": false}, "axis": null},
            "text": {"field": "label"}
          }
        }
      ]
    }
  ]
}
